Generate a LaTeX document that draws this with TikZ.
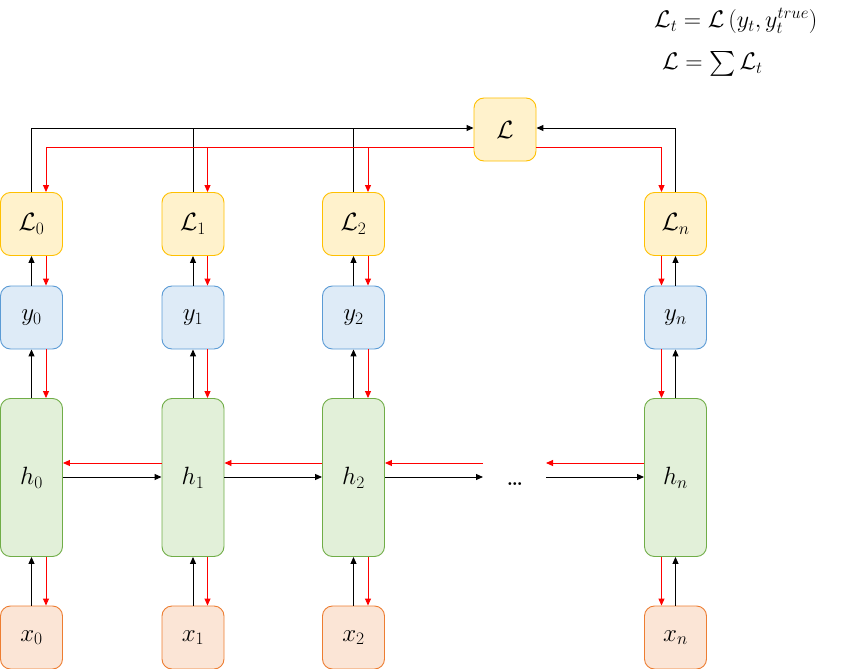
\RequirePackage{fix-cm}
\documentclass[tikz,border=0pt]{standalone}
\usepackage{amsmath}
\usetikzlibrary{arrows.meta}
\definecolor{yfill}{HTML}{FFF2CC}\definecolor{ydraw}{HTML}{FFC000}
\definecolor{bfill}{HTML}{DEEBF7}\definecolor{bdraw}{HTML}{5B9BD5}
\definecolor{gfill}{HTML}{E2F0D9}\definecolor{gdraw}{HTML}{70AD47}
\definecolor{ofill}{HTML}{FBE5D6}\definecolor{odraw}{HTML}{ED7D31}
\definecolor{rline}{HTML}{FF0000}
\begin{document}
\begin{tikzpicture}[x=1pt,y=-1pt,
  box/.style={rounded corners=10pt, line width=0.9pt, minimum width=62pt, minimum height=63pt, inner sep=0pt, font=\fontsize{25}{27}\selectfont},
  lbox/.style={box, fill=yfill, draw=ydraw},
  ybox/.style={box, fill=bfill, draw=bdraw},
  hbox/.style={box, fill=gfill, draw=gdraw, minimum height=158pt},
  xbox/.style={box, fill=ofill, draw=odraw},
  blk/.style={line width=1pt, -{Triangle[length=7pt,width=6pt]}},
  blkn/.style={line width=1pt},
  red/.style={line width=0.9pt, draw=rline, -{Triangle[length=7pt,width=6pt]}, color=rline},
  eq/.style={font=\fontsize{24}{26}\selectfont, anchor=west, inner sep=0pt}]
\useasboundingbox (0,0) rectangle (852,669);
% nodes
\node[lbox] (L) at (505,129.5) {$\mathcal{L}$};
\foreach \n/\xx in {0/31.5,1/193,2/353.5,n/675.5}{
  \node[lbox] (L\n) at (\xx,224) {$\mathcal{L}_\n$};
  \node[ybox] (y\n) at (\xx,317.5) {$y_\n$};
  \node[hbox] (h\n) at (\xx,477.5) {$h_\n$};
  \node[xbox] (x\n) at (\xx,637.5) {$x_\n$};
}
% vertical arrows
\foreach \n in {0,1,2}{
  \draw[blk] (x\n.north) -- (h\n.south);
  \draw[blk] (h\n.north) -- (y\n.south);
  \draw[blk] (y\n.north) -- (L\n.south);
  \draw[red] ([xshift=14.5pt]L\n.south) -- ([xshift=14.5pt]y\n.north);
  \draw[red] ([xshift=14.5pt]y\n.south) -- ([xshift=14.5pt]h\n.north);
  \draw[red] ([xshift=14.5pt]h\n.south) -- ([xshift=14.5pt]x\n.north);
}
\draw[blk] (xn.north) -- (hn.south);
\draw[blk] (hn.north) -- (yn.south);
\draw[blk] (yn.north) -- (Ln.south);
\draw[red] ([xshift=-14pt]Ln.south) -- ([xshift=-14pt]yn.north);
\draw[red] ([xshift=-14pt]yn.south) -- ([xshift=-14pt]hn.north);
\draw[red] ([xshift=-14pt]hn.south) -- ([xshift=-14pt]xn.north);
% top connections
\coordinate (bl) at ([yshift=1.5pt]L.west);
\coordinate (br) at ([yshift=1.5pt]L.east);
\coordinate (rl) at ([yshift=-17.5pt]L.west);
\coordinate (rr) at ([yshift=-17.5pt]L.east);
\draw[blk] (L0.north) |- (bl);
\draw[blkn] (L1.north) -- (L1.north |- bl);
\draw[blkn] (L2.north) -- (L2.north |- bl);
\draw[blk] (Ln.north) |- (br);
\draw[red] (rl) -| ([xshift=14.5pt]L0.north);
\draw[red] ([xshift=14.5pt]L1.north |- rl) -- ([xshift=14.5pt]L1.north);
\draw[red] ([xshift=14.5pt]L2.north |- rl) -- ([xshift=14.5pt]L2.north);
\draw[red] (rr) -| ([xshift=-14pt]Ln.north);
% horizontal
\draw[blk] ([yshift=0.5pt]h0.east) -- ([yshift=0.5pt]h1.west);
\draw[blk] ([yshift=0.5pt]h1.east) -- ([yshift=0.5pt]h2.west);
\draw[red] ([yshift=14.5pt]h1.west) -- ([yshift=14.5pt]h0.east);
\draw[red] ([yshift=14.5pt]h2.west) -- ([yshift=14.5pt]h1.east);
\coordinate (d1) at (483,477);
\coordinate (d2) at (546,477);
\coordinate (r1) at (483,463);
\coordinate (r2) at (546,463);
\draw[blk] ([yshift=0.5pt]h2.east) -- (d1);
\draw[red] (r1) -- ([yshift=14.5pt]h2.west -| h2.east);
\draw[blk] (d2) -- ([yshift=0.5pt]hn.west);
\draw[red] ([yshift=14.5pt]hn.west) -- (r2);
\node[font=\fontsize{20}{22}\selectfont\bfseries, inner sep=0pt] (dots) at (515,484) {\dots};
% formulas
\node[eq] (f1) at (654,21) {$\mathcal{L}_t=\mathcal{L}\,(y_t,y_t^{true})$};
\node[eq] (f2) at (662,64) {$\mathcal{L}=\textstyle\sum\mathcal{L}_t$};
\end{tikzpicture}
\end{document}
